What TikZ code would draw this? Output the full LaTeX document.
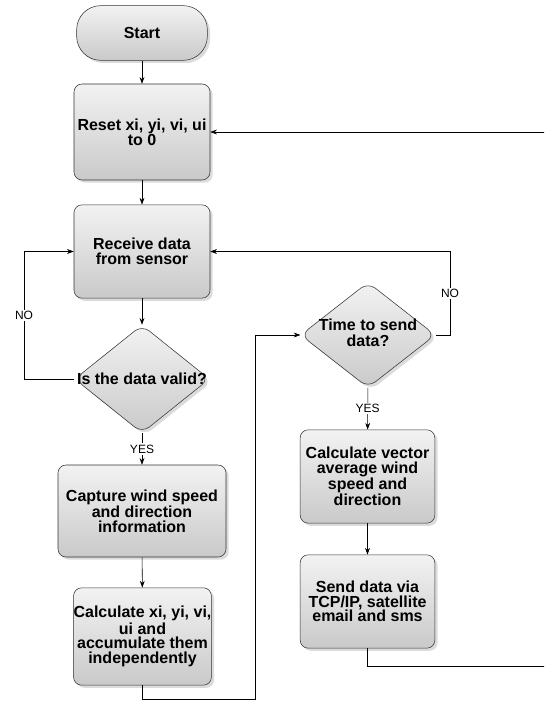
\documentclass[tikz,border=0pt]{standalone}
\usepackage{fontspec}
\setmainfont{Liberation Sans}
\usetikzlibrary{arrows.meta,shapes.geometric,shadows}

\begin{document}
\begin{tikzpicture}[x=0.75pt,y=-0.75pt,>={Stealth[length=5pt,width=3.6pt]},
    boxtext/.style={font=\fontsize{12}{11}\selectfont\bfseries,align=center},
    procbox/.style={boxtext,draw=black!80,thin,rounded corners=6pt,inner sep=0pt,
      top color=gray!10,bottom color=gray!42,
      drop shadow={shadow xshift=2pt,shadow yshift=-2pt,fill=gray!55}},
    decision/.style={boxtext,diamond,draw=black!80,thin,rounded corners=7pt,inner sep=0pt,
      top color=gray!10,bottom color=gray!42,
      drop shadow={shadow xshift=2pt,shadow yshift=-2pt,fill=gray!55}},
    answer/.style={font=\fontsize{9}{9}\selectfont,fill=white,inner sep=1pt}]
  \clip (0,0) rectangle (544,702);
  \fill[white] (0,0) rectangle (544,702);

  % left column
  \node[procbox,rounded corners=18pt,minimum width=98pt,minimum height=41pt] (start) at (142,33) {Start};
  \node[procbox,minimum width=102pt,minimum height=72pt] (reset) at (142,132) {Reset xi, yi, vi, ui\\to 0};
  \node[procbox,minimum width=102pt,minimum height=70pt] (receive) at (142,251.5) {Receive data\\from sensor};
  \node[decision,minimum width=101pt,minimum height=81pt] (valid) at (142,379)
     {\makebox[0pt]{Is the data valid?}};
  \node[procbox,minimum width=126pt,minimum height=69pt] (capture) at (142,511)
     {Capture wind speed\\and direction\\information};
  \node[procbox,minimum width=101pt,minimum height=73pt] (accum) at (142.5,636.5)
     {Calculate xi, yi, vi,\\ui and\\accumulate them\\independently};

  % right column
  \node[decision,minimum width=101pt,minimum height=79pt] (sendtime) at (368,335)
     {\makebox[0pt]{\begin{tabular}{@{}c@{}}Time to send\\data?\end{tabular}}};
  \node[procbox,minimum width=101pt,minimum height=70pt] (vector) at (367.5,476.5)
     {Calculate vector\\average wind\\speed and\\direction};
  \node[procbox,minimum width=101pt,minimum height=70pt] (send) at (367.5,601.5)
     {Send data via\\TCP/IP, satellite\\email and sms};

  % helper points for the loops
  \coordinate (noleft) at (24,0);
  \coordinate (loopdown) at (255,699);
  \coordinate (noright) at (450,0);
  \coordinate (backdown) at (548,666);

  % connectors
  \draw[->] (start) -- (reset);
  \draw[->] (reset) -- (receive);
  \draw[->] (receive) -- (valid);
  \draw[->] (valid) -- node[answer] {YES} (capture);
  \draw[->] (capture) -- (accum);
  \draw[->] (valid.west) -- (valid.west -| noleft)
     -- node[answer] {NO} (receive.west -| noleft) -- (receive.west);
  \draw[->] (accum.south) -- (accum.south |- loopdown) -- (loopdown) |- (sendtime.west);
  \draw[->] (sendtime.east) -- (sendtime.east -| noright)
     -- node[answer] {NO} (receive.east -| noright) -- (receive.east);
  \draw[->] (sendtime) -- node[answer] {YES} (vector);
  \draw[->] (vector) -- (send);
  \draw[->] (send.south) -- (send.south |- backdown) -- (backdown) |- (reset.east);
\end{tikzpicture}
\end{document}
